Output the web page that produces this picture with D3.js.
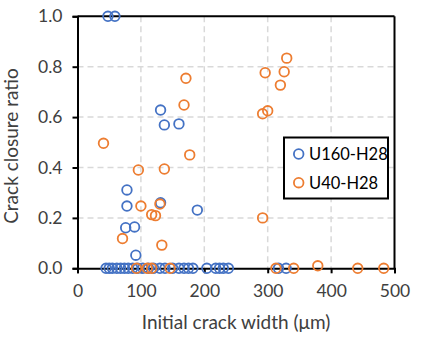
<!DOCTYPE html>
<html><head><meta charset="utf-8">
<script src="https://cdn.jsdelivr.net/npm/d3@7"></script>
<style>body{margin:0;background:#fff}svg{display:block}text{font-family:Lato,"Open Sans",sans-serif}</style>
</head><body><svg id="c" width="422" height="338"></svg>
<script>
const seriesNames = ["U160-H28", "U40-H28"];
const u160X = [48, 59, 131, 137, 160, 78, 78, 131, 189, 76, 90, 92,
  45, 50, 55, 62, 68, 74, 80, 87, 95, 103, 112, 120, 130, 138, 150, 160, 168, 175, 182, 204, 218, 224, 230, 238, 317, 329];
const u160Y = [1.0, 1.0, 0.628, 0.569, 0.573, 0.311, 0.247, 0.26, 0.231, 0.161, 0.164, 0.052,
  0, 0, 0, 0, 0, 0, 0, 0, 0, 0, 0, 0, 0, 0, 0, 0, 0, 0, 0, 0, 0, 0, 0, 0, 0, 0];
const u40X = [41, 171, 168, 177, 96, 137, 100, 130, 117, 123, 71, 133, 330, 296, 326, 320, 300, 292, 292, 379,
  93, 110, 117, 146, 313, 341, 442, 483];
const u40Y = [0.496, 0.754, 0.648, 0.45, 0.39, 0.394, 0.247, 0.255, 0.213, 0.209, 0.118, 0.092, 0.834, 0.776, 0.78, 0.727, 0.625, 0.613, 0.2, 0.01,
  0, 0, 0, 0, 0, 0, 0, 0];
const xTicks = [0, 100, 200, 300, 400, 500];
const yTicks = [0, 0.2, 0.4, 0.6, 0.8, 1.0];
const colors = ["#4472C4", "#ED7D31"];

const svg = d3.select("#c");
const L = 77.5, R = 394.5, T = 16.3, B = 268.3;
const x = d3.scaleLinear().domain([0, 500]).range([L, R]);
const y = d3.scaleLinear().domain([0, 1]).range([B, T]);

// grid
const g = svg.append("g");
g.selectAll(".vg").data(xTicks.slice(1, -1)).join("line")
  .attr("x1", d => x(d)).attr("x2", d => x(d)).attr("y1", T).attr("y2", B)
  .attr("stroke", "#D9D9D9").attr("stroke-width", 1.5).attr("stroke-dasharray", "6,4");
g.selectAll(".hg").data(yTicks.slice(1, -1)).join("line")
  .attr("y1", d => y(d)).attr("y2", d => y(d)).attr("x1", L).attr("x2", R)
  .attr("stroke", "#D9D9D9").attr("stroke-width", 1.5).attr("stroke-dasharray", "6,4");

// frame top/right
svg.append("line").attr("x1", L).attr("x2", R).attr("y1", T).attr("y2", T).attr("stroke", "#000").attr("stroke-width", 2);
svg.append("line").attr("x1", R).attr("x2", R).attr("y1", T).attr("y2", B).attr("stroke", "#000").attr("stroke-width", 2);

// axes
const xa = svg.append("g").attr("transform", `translate(0,${B})`)
  .call(d3.axisBottom(x).tickValues(xTicks).tickSize(5).tickPadding(11).tickFormat(d3.format("d")));
const ya = svg.append("g").attr("transform", `translate(${L},0)`)
  .call(d3.axisLeft(y).tickValues(yTicks).tickSize(5).tickPadding(10).tickFormat(d3.format(".1f")));
[xa, ya].forEach(a => {
  a.select(".domain").attr("stroke", "#000").attr("stroke-width", 2);
  a.selectAll(".tick line").attr("stroke", "#000").attr("stroke-width", 2);
  a.selectAll(".tick text").attr("fill", "#404040").attr("font-size", 17.5);
});

// points
const sets = [[u160X, u160Y], [u40X, u40Y]];
sets.forEach((s, i) => {
  svg.append("g").selectAll("circle").data(s[0].map((v, k) => [v, s[1][k]])).join("circle")
    .attr("cx", d => x(d[0])).attr("cy", d => y(d[1])).attr("r", 4.8)
    .attr("fill", "none").attr("stroke", colors[i]).attr("stroke-width", 1.8);
});

// titles
svg.append("text").attr("x", 236).attr("y", 329).attr("text-anchor", "middle")
  .attr("font-size", 19).attr("fill", "#404040").text("Initial crack width (μm)");
svg.append("text").attr("transform", `translate(18,146) rotate(-90)`).attr("text-anchor", "middle")
  .attr("font-size", 19).attr("fill", "#404040").text("Crack closure ratio");

// legend
const lg = svg.append("g");
lg.append("rect").attr("x", 284).attr("y", 137.5).attr("width", 104).attr("height", 61)
  .attr("fill", "#fff").attr("stroke", "#000").attr("stroke-width", 2);
seriesNames.forEach((n, i) => {
  const cy = 154 + i * 28.7;
  lg.append("circle").attr("cx", 298.7).attr("cy", cy).attr("r", 4.8).attr("fill", "none")
    .attr("stroke", colors[i]).attr("stroke-width", 1.8);
  lg.append("text").attr("x", 309).attr("y", cy + 6).attr("font-size", 16.5).attr("fill", "#000").text(n);
});
</script></body></html>
